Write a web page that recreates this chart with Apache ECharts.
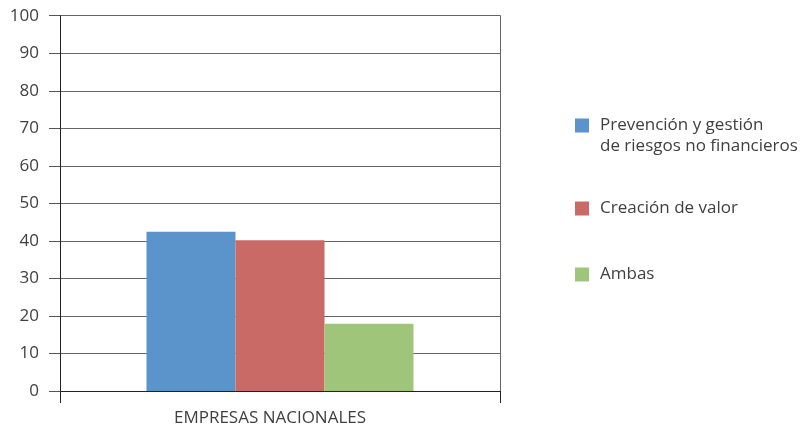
<!DOCTYPE html>
<html>
<head>
<meta charset="utf-8">
<script src="https://cdn.jsdelivr.net/npm/echarts@6/dist/echarts.min.js"></script>
<style>
  html, body { margin: 0; padding: 0; background: #fff; }
  #chart { width: 800px; height: 427px; }
</style>
</head>
<body>
<div id="chart"></div>
<script>
// Categories, series and values
const categories = ['EMPRESAS NACIONALES'];
const seriesNames = [
  'Prevención y gestión de riesgos no financieros',
  'Creación de valor',
  'Ambas'
];
const prevencion = [42.4];
const creacion = [40.2];
const ambas = [17.9];
const seriesColors = ['#5b93cb', '#c96a66', '#9fc57a'];

// Legend text: the first entry wraps onto a second line
const legendFirstLines = ['Prevención y gestión', 'Creación de valor', 'Ambas'];
const legendSecondLine = 'de riesgos no financieros';

const FONT = '"Open Sans", "Noto Sans", sans-serif';
const TEXT = '#404040';

const chart = echarts.init(document.getElementById('chart'));

const values = [prevencion, creacion, ambas];
const legendTops = [117, 200, 266];

chart.setOption({
  animation: false,
  backgroundColor: '#fff',
  grid: { left: 60, right: 300, top: 15.7, bottom: 35, containLabel: false },
  legend: seriesNames.map((name, i) => ({
    data: [name],
    orient: 'vertical',
    left: 575,
    top: legendTops[i],
    padding: 0,
    itemWidth: 14,
    itemHeight: 14,
    icon: 'rect',
    selectedMode: false,
    formatter: () => legendFirstLines[i],
    textStyle: {
      fontFamily: FONT,
      fontSize: 17,
      color: TEXT,
      padding: [0, 0, 0, 6]
    }
  })),
  graphic: [{
    type: 'text',
    left: 600,
    top: 138,
    style: {
      text: legendSecondLine,
      font: '17px ' + FONT,
      fill: TEXT
    }
  }],
  xAxis: {
    type: 'category',
    data: categories,
    axisLine: { show: true, lineStyle: { color: '#222', width: 1 } },
    axisTick: { show: true, length: 12, lineStyle: { color: '#222' } },
    axisLabel: {
      fontFamily: FONT, fontSize: 17, color: TEXT, margin: 19,
      padding: [0, 20, 0, 0]
    },
    splitLine: { show: false }
  },
  yAxis: [
    {
      type: 'value',
      min: 0, max: 100, interval: 10,
      axisLine: { show: true, lineStyle: { color: '#222', width: 1 } },
      axisTick: { show: true, length: 11, lineStyle: { color: '#555' } },
      axisLabel: { fontFamily: FONT, fontSize: 17, color: TEXT, margin: 21 },
      splitLine: { show: true, lineStyle: { color: '#666', width: 1 } }
    },
    {
      type: 'value',
      position: 'right',
      min: 0, max: 100, interval: 10,
      axisLine: { show: true, lineStyle: { color: '#666', width: 1 } },
      axisTick: { show: false },
      axisLabel: { show: false },
      splitLine: { show: false }
    }
  ],
  series: seriesNames.map((name, i) => ({
    name: name,
    type: 'bar',
    data: values[i],
    barWidth: 89,
    barGap: '0%',
    itemStyle: { color: seriesColors[i] }
  }))
});
</script>
</body>
</html>
